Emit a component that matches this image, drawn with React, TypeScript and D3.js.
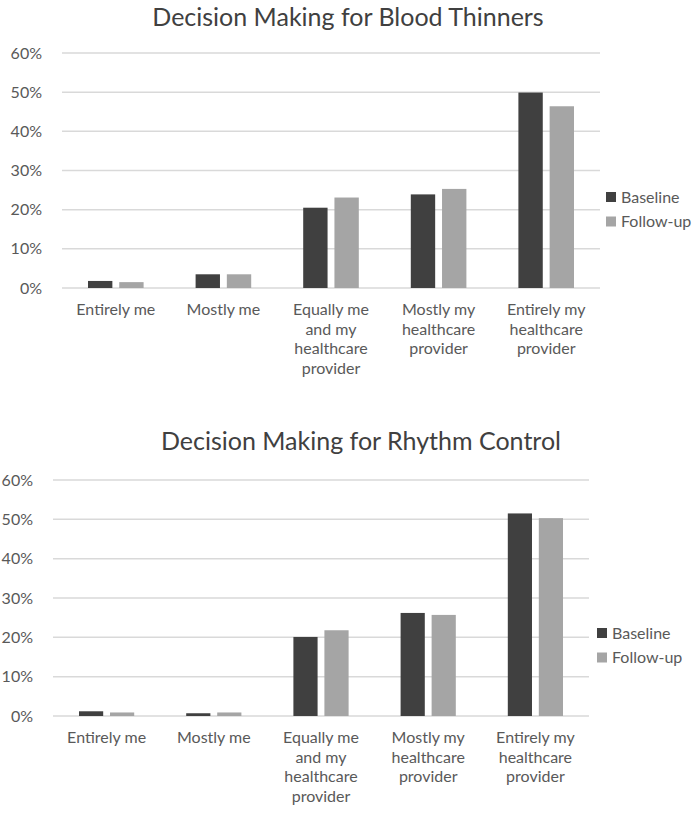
import React from "react";
import * as d3 from "d3";

const categories = [
  "Entirely me",
  "Mostly me",
  "Equally me and my healthcare provider",
  "Mostly my healthcare provider",
  "Entirely my healthcare provider",
];
const categoryLines = [
  ["Entirely me"],
  ["Mostly me"],
  ["Equally me", "and my", "healthcare", "provider"],
  ["Mostly my", "healthcare", "provider"],
  ["Entirely my", "healthcare", "provider"],
];
const seriesNames = ["Baseline", "Follow-up"];
const bloodBaseline = [1.8, 3.5, 20.5, 23.9, 49.9];
const bloodFollowUp = [1.5, 3.5, 23.1, 25.3, 46.4];
const rhythmBaseline = [1.2, 0.7, 20.1, 26.2, 51.5];
const rhythmFollowUp = [0.9, 0.9, 21.8, 25.7, 50.3];
const yTicks = [0, 10, 20, 30, 40, 50, 60];

const colors = ["#404040", "#A5A5A5"];
const FONT = "Lato, 'Open Sans', sans-serif";

type ChartProps = {
  title: string;
  titleX: number;
  titleY: number;
  baseline: number[];
  followUp: number[];
  x0: number;
  x1: number;
  yTop: number;
  yBottom: number;
  legendX: number;
  legendY: number;
};

function Chart(p: ChartProps) {
  const x = d3.scaleBand<string>().domain(categories).range([p.x0, p.x1]).padding(0);
  const bw = x.bandwidth();
  const inner = d3
    .scaleBand<string>()
    .domain(seriesNames)
    .range([26, bw - 26])
    .paddingInner(0.22)
    .paddingOuter(0);
  const y = d3.scaleLinear().domain([0, 60]).range([p.yBottom, p.yTop]);
  const series = [p.baseline, p.followUp];
  return (
    <g>
      <text
        x={p.titleX}
        y={p.titleY}
        textAnchor="middle"
        fontSize={25}
        fill="#404040"
        fontFamily={FONT}
      >
        {p.title}
      </text>
      {yTicks.map((t) => (
        <g key={t}>
          <line x1={p.x0} x2={p.x1} y1={y(t)} y2={y(t)} stroke="#D9D9D9" strokeWidth={1.5} />
          <text
            x={p.x0 - 20}
            y={y(t)}
            dy="0.35em"
            textAnchor="end"
            fontSize={16}
            fill="#595959"
            fontFamily={FONT}
          >
            {t}%
          </text>
        </g>
      ))}
      {series.map((vals, si) =>
        categories.map((c, ci) => (
          <rect
            key={si + "-" + ci}
            x={(x(c) as number) + (inner(seriesNames[si]) as number)}
            width={inner.bandwidth()}
            y={y(vals[ci])}
            height={y(0) - y(vals[ci])}
            fill={colors[si]}
          />
        ))
      )}
      {categories.map((c, ci) => (
        <text
          key={c}
          textAnchor="middle"
          fontSize={16}
          fill="#595959"
          fontFamily={FONT}
        >
          {categoryLines[ci].map((ln, li) => (
            <tspan key={li} x={(x(c) as number) + bw / 2} y={p.yBottom + 27 + li * 19.5}>
              {ln}
            </tspan>
          ))}
        </text>
      ))}
      {seriesNames.map((s, si) => (
        <g key={s} transform={`translate(${p.legendX},${p.legendY + si * 24.5})`}>
          <rect x={0} y={-5} width={10} height={10} fill={colors[si]} />
          <text x={15} y={0} dy="0.35em" fontSize={16} fill="#595959" fontFamily={FONT}>
            {s}
          </text>
        </g>
      ))}
    </g>
  );
}

export default function App() {
  return (
    <svg
      width={700}
      height={814}
      style={{ position: "absolute", left: 0, top: 0, background: "#fff" }}
    >
      <rect width={700} height={814} fill="#fff" />
      <Chart
        title="Decision Making for Blood Thinners"
        titleX={348}
        titleY={26}
        baseline={bloodBaseline}
        followUp={bloodFollowUp}
        x0={62}
        x1={600}
        yTop={53}
        yBottom={288}
        legendX={606}
        legendY={197}
      />
      <Chart
        title="Decision Making for Rhythm Control"
        titleX={361}
        titleY={450}
        baseline={rhythmBaseline}
        followUp={rhythmFollowUp}
        x0={53}
        x1={589}
        yTop={480}
        yBottom={716}
        legendX={597}
        legendY={633}
      />
    </svg>
  );
}
